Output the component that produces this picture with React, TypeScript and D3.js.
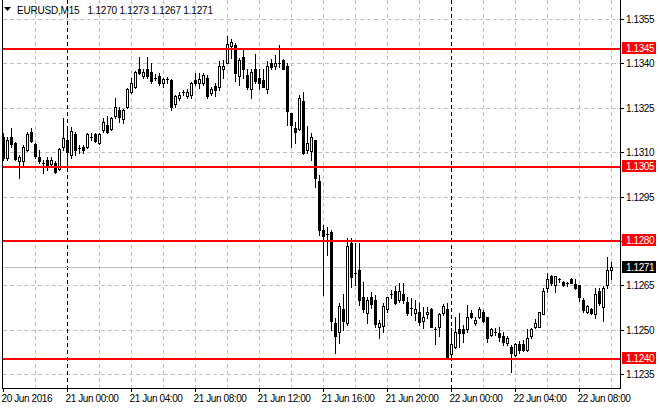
import React from "react";
import * as d3 from "d3";

// EURUSD M15 bars, 20 Jun 20:00 -> 22 Jun 10:00
const opens = [
  1.13151, 1.1308, 1.13151, 1.13131, 1.1307, 1.1307, 1.13107, 1.13168, 1.13128, 1.13084,
  1.13064, 1.13074, 1.1306, 1.13064, 1.13043, 1.13118, 1.13141, 1.13091, 1.13161, 1.13114,
  1.13118, 1.13118, 1.13151, 1.13161, 1.13131, 1.13175, 1.13192, 1.13178, 1.13222, 1.13243,
  1.13212, 1.13253, 1.13303, 1.1332, 1.13381, 1.13357, 1.13381, 1.13371, 1.13351, 1.13357,
  1.13334, 1.13347, 1.13344, 1.13263, 1.13283, 1.13303, 1.1329, 1.13293, 1.13344, 1.13334,
  1.13334, 1.13351, 1.133, 1.13324, 1.1332, 1.13381, 1.13401, 1.13459, 1.13462, 1.13357,
  1.13422, 1.13361, 1.13313, 1.13381, 1.13351, 1.13344, 1.13313, 1.13401, 1.13391, 1.13401,
  1.13411, 1.13391, 1.13232, 1.13182, 1.13178, 1.13273, 1.13107, 1.13104, 1.13141, 1.13003,
  1.12837, 1.12824, 1.1283, 1.12523, 1.12493, 1.1257, 1.12523, 1.12793, 1.12692, 1.12702,
  1.12611, 1.12557, 1.12611, 1.12601, 1.1251, 1.12513, 1.1257, 1.12621, 1.12631, 1.12601,
  1.12621, 1.12594, 1.12574, 1.12557, 1.1256, 1.1253, 1.12553, 1.1257, 1.12503, 1.1251,
  1.12557, 1.1257, 1.12418, 1.12442, 1.12503, 1.12503, 1.12503, 1.12557, 1.12523, 1.12543,
  1.1256, 1.12543, 1.12483, 1.12493, 1.12489, 1.12479, 1.12455, 1.12442, 1.12415, 1.12452,
  1.12452, 1.12432, 1.12479, 1.1251, 1.1251, 1.12553, 1.12641, 1.12682, 1.12651, 1.12672,
  1.12662, 1.12658, 1.12672, 1.12655, 1.12651, 1.12601, 1.1256, 1.1257, 1.12553, 1.12631,
  1.12577, 1.12651, 1.127,
];
const highs = [
  1.13165, 1.13151, 1.13182, 1.13134, 1.13091, 1.13124, 1.13168, 1.13182, 1.13131, 1.13107,
  1.13074, 1.13084, 1.13084, 1.1307, 1.13114, 1.13216, 1.13175, 1.13185, 1.13168, 1.13124,
  1.13124, 1.13165, 1.13165, 1.13165, 1.13165, 1.13216, 1.13222, 1.13219, 1.13283, 1.13253,
  1.13246, 1.13317, 1.13351, 1.13374, 1.13422, 1.13381, 1.13422, 1.13401, 1.13364, 1.13368,
  1.13351, 1.13354, 1.13347, 1.13293, 1.13303, 1.1331, 1.13313, 1.13337, 1.13368, 1.13368,
  1.13368, 1.13361, 1.1332, 1.13334, 1.13408, 1.13411, 1.13493, 1.13482, 1.13469, 1.13418,
  1.13452, 1.13381, 1.13381, 1.13432, 1.13381, 1.13381, 1.13408, 1.13415, 1.13428, 1.13462,
  1.13415, 1.13401, 1.13232, 1.13202, 1.13293, 1.13303, 1.13189, 1.13165, 1.13141, 1.13023,
  1.12854, 1.12847, 1.12837, 1.1254, 1.12591, 1.12621, 1.1281, 1.1281, 1.12793, 1.12793,
  1.12662, 1.12611, 1.12628, 1.12618, 1.12533, 1.12591, 1.12611, 1.12635, 1.12648, 1.12658,
  1.12658, 1.12611, 1.12607, 1.12601, 1.12591, 1.12577, 1.12577, 1.12574, 1.1251, 1.12557,
  1.12587, 1.12591, 1.12506, 1.12543, 1.12557, 1.12516, 1.12584, 1.12567, 1.12543, 1.12577,
  1.12567, 1.12543, 1.12506, 1.12506, 1.1251, 1.12493, 1.12479, 1.12449, 1.12455, 1.12462,
  1.12466, 1.12503, 1.12506, 1.12537, 1.1256, 1.12641, 1.12692, 1.12685, 1.12682, 1.12675,
  1.12665, 1.12662, 1.12675, 1.12672, 1.12651, 1.12607, 1.12584, 1.12574, 1.12641, 1.12641,
  1.12648, 1.12746, 1.1273,
];
const lows = [
  1.13074, 1.13074, 1.13118, 1.13074, 1.13013, 1.13057, 1.13104, 1.13134, 1.1308, 1.13064,
  1.1303, 1.1304, 1.1305, 1.1303, 1.1304, 1.13107, 1.13057, 1.1308, 1.13091, 1.13097,
  1.13097, 1.13114, 1.13141, 1.13134, 1.13128, 1.13168, 1.13165, 1.13175, 1.13216, 1.13202,
  1.13199, 1.13249, 1.133, 1.13317, 1.13364, 1.13351, 1.13351, 1.13334, 1.13344, 1.13327,
  1.1332, 1.13334, 1.13243, 1.13253, 1.13276, 1.13293, 1.13283, 1.13283, 1.13327, 1.13317,
  1.13327, 1.13283, 1.13293, 1.1329, 1.1331, 1.13351, 1.13401, 1.13418, 1.13341, 1.13327,
  1.13351, 1.13313, 1.13283, 1.13334, 1.13313, 1.1332, 1.133, 1.13381, 1.13381, 1.13388,
  1.13381, 1.13192, 1.13118, 1.13131, 1.13175, 1.13094, 1.13097, 1.13074, 1.12982, 1.1282,
  1.12618, 1.12753, 1.12499, 1.12422, 1.12455, 1.12499, 1.12516, 1.12645, 1.12651, 1.12584,
  1.1256, 1.12523, 1.12574, 1.1251, 1.12472, 1.12493, 1.1256, 1.12607, 1.12587, 1.12594,
  1.12591, 1.1255, 1.1255, 1.12533, 1.12516, 1.12506, 1.1254, 1.1251, 1.12452, 1.12479,
  1.1255, 1.12405, 1.12408, 1.12439, 1.12442, 1.12459, 1.12493, 1.1254, 1.12516, 1.1254,
  1.12526, 1.12459, 1.12479, 1.12483, 1.12462, 1.12449, 1.12449, 1.12358, 1.12412, 1.12422,
  1.12428, 1.12428, 1.12472, 1.12506, 1.1251, 1.12553, 1.12628, 1.12651, 1.12628, 1.12662,
  1.12648, 1.12648, 1.12658, 1.12638, 1.12597, 1.1256, 1.12557, 1.12553, 1.1254, 1.12584,
  1.1253, 1.12641, 1.1267,
];
const closes = [
  1.1308, 1.13141, 1.13128, 1.13077, 1.13084, 1.13118, 1.13161, 1.13138, 1.13087, 1.1307,
  1.13064, 1.13057, 1.13074, 1.13033, 1.13111, 1.13148, 1.13101, 1.13172, 1.13107, 1.13114,
  1.13107, 1.13161, 1.13151, 1.13138, 1.13161, 1.13202, 1.13168, 1.13216, 1.13253, 1.13219,
  1.13243, 1.13313, 1.13334, 1.13371, 1.13368, 1.13371, 1.13357, 1.13341, 1.13351, 1.13334,
  1.13347, 1.13347, 1.13253, 1.1329, 1.13293, 1.13303, 1.13303, 1.13334, 1.13334, 1.13347,
  1.13361, 1.1329, 1.13313, 1.1331, 1.13391, 1.13391, 1.13465, 1.13472, 1.13368, 1.13411,
  1.13381, 1.1332, 1.13371, 1.13341, 1.13334, 1.1332, 1.13391, 1.13388, 1.13401, 1.13401,
  1.13381, 1.13239, 1.13192, 1.13168, 1.13283, 1.13097, 1.13131, 1.13151, 1.13013, 1.12837,
  1.12817, 1.12824, 1.1253, 1.12479, 1.1258, 1.1253, 1.12783, 1.12678, 1.12692, 1.12601,
  1.1257, 1.12601, 1.12587, 1.1252, 1.12523, 1.1258, 1.12611, 1.12621, 1.12591, 1.12631,
  1.12601, 1.12557, 1.12574, 1.1257, 1.12526, 1.12543, 1.1256, 1.1251, 1.12503, 1.12553,
  1.1258, 1.12408, 1.12452, 1.12493, 1.12489, 1.12489, 1.12543, 1.12543, 1.12533, 1.1257,
  1.1253, 1.12472, 1.12503, 1.12493, 1.12476, 1.12459, 1.12472, 1.12422, 1.12452, 1.12432,
  1.12432, 1.12472, 1.12503, 1.12523, 1.1256, 1.12631, 1.12672, 1.12658, 1.12682, 1.12672,
  1.12651, 1.12658, 1.12658, 1.12641, 1.12611, 1.12567, 1.1258, 1.12557, 1.12621, 1.12591,
  1.12641, 1.12703, 1.1271,
];

const symbolLabel = "EURUSD,M15";
const timeLabels = [
  "20 Jun 2016", "21 Jun 00:00", "21 Jun 04:00", "21 Jun 08:00", "21 Jun 12:00",
  "21 Jun 16:00", "21 Jun 20:00", "22 Jun 00:00", "22 Jun 04:00", "22 Jun 08:00",
];
const timeLabelBars = [0, 16, 32, 48, 64, 80, 96, 112, 128, 144];
const daySeparatorBars = [16, 112];
const gridBars = [8, 24, 32, 40, 48, 56, 64, 72, 80, 88, 96, 104, 120, 128, 136, 144, 152];
const priceTicks = [1.1355, 1.134, 1.1325, 1.131, 1.1295, 1.128, 1.1265, 1.125, 1.1235];
const levels = [1.1345, 1.1305, 1.128, 1.124];

const W = 660;
const H = 410;
const plotLeft = 2;
const plotRight = 620;
const plotBottom = 388;
const font = "'Liberation Sans', Arial, sans-serif";

export default function App() {
  const n = closes.length;
  const last = n - 1;
  const lastPrice = closes[last];

  const x = d3.scaleLinear().domain([0, last]).range([3.5, 611.5]);
  const y = d3.scaleLinear().domain([1.1235, 1.1355]).range([374, 19]);
  const py = (p: number) => Math.round(y(p));
  const fmt = d3.format(".4f");

  const headerValues = [opens[last], highs[last], lows[last], closes[last]].map(fmt).join(" ");

  return (
    <div style={{ position: "absolute", left: 0, top: 0, width: W, height: H, background: "#fff" }}>
      <svg width={W} height={H} style={{ display: "block" }} fontFamily={font}>
        <rect x={0} y={0} width={W} height={H} fill="#fff" />

        {/* horizontal grid */}
        {priceTicks.map(p => (
          <line key={"hg" + p} x1={plotLeft + 1} x2={plotRight} y1={py(p) + 0.5} y2={py(p) + 0.5}
            stroke="#c0c0c0" strokeDasharray="4,3" shapeRendering="crispEdges" />
        ))}

        {/* vertical grid */}
        {gridBars.filter(b => !daySeparatorBars.includes(b)).map(b => (
          <line key={"vg" + b} x1={x(b)} x2={x(b)} y1={0} y2={plotBottom}
            stroke="#c0c0c0" strokeDasharray="4,3" shapeRendering="crispEdges" />
        ))}

        {/* day separators */}
        {daySeparatorBars.map(b => (
          <line key={"ds" + b} x1={x(b)} x2={x(b)} y1={0} y2={plotBottom}
            stroke="#000" strokeDasharray="4,3" shapeRendering="crispEdges" />
        ))}

        {/* bid line */}
        <line x1={plotLeft + 1} x2={plotRight} y1={py(lastPrice) + 0.5} y2={py(lastPrice) + 0.5}
          stroke="#c0c0c0" shapeRendering="crispEdges" />

        {/* candles */}
        {closes.map((c, i) => {
          const o = opens[i];
          const cx = x(i);
          const yo = py(o);
          const yc = py(c);
          const yh = py(highs[i]);
          const yl = py(lows[i]);
          const top = Math.min(yo, yc);
          const bot = Math.max(yo, yc);
          let body;
          if (bot - top < 1) {
            body = <rect x={cx - 1.5} y={top} width={3} height={1} fill="#000" />;
          } else if (c > o) {
            body = <rect x={cx - 1} y={top + 0.5} width={2} height={bot - top} fill="#fff" stroke="#000" />;
          } else {
            body = <rect x={cx - 1.5} y={top} width={3} height={bot - top + 1} fill="#000" />;
          }
          return (
            <g key={i} shapeRendering="crispEdges">
              <rect x={cx - 0.5} y={yh} width={1} height={yl - yh + 1} fill="#000" />
              {body}
            </g>
          );
        })}

        {/* support / resistance levels */}
        {levels.map(p => (
          <rect key={"lv" + p} x={plotLeft} y={Math.round(y(p) - 1)} width={plotRight - plotLeft} height={2}
            fill="#ff0000" shapeRendering="crispEdges" />
        ))}

        {/* frame */}
        <path d={`M${plotLeft + 0.5},0V${plotBottom + 0.5}H${plotRight + 0.5}V0`}
          fill="none" stroke="#000" shapeRendering="crispEdges" />

        {/* price axis */}
        {priceTicks.map(p => (
          <g key={"pt" + p}>
            <line x1={plotRight} x2={plotRight + 4} y1={py(p) + 0.5} y2={py(p) + 0.5}
              stroke="#000" shapeRendering="crispEdges" />
            <text x={626} y={py(p)} dy="0.35em" fontSize={10} letterSpacing={-0.4} fill="#000">
              {fmt(p)}
            </text>
          </g>
        ))}

        {levels.map(p => (
          <g key={"lb" + p}>
            <rect x={622} y={Math.round(y(p)) - 7} width={34} height={12} fill="#ff0000"
              shapeRendering="crispEdges" />
            <text x={626} y={Math.round(y(p)) - 1} dy="0.35em" fontSize={10} letterSpacing={-0.4} fill="#fff">
              {fmt(p)}
            </text>
          </g>
        ))}

        <rect x={622} y={py(lastPrice) - 6} width={34} height={12} fill="#000" shapeRendering="crispEdges" />
        <text x={626} y={py(lastPrice)} dy="0.35em" fontSize={10} letterSpacing={-0.4} fill="#fff">
          {fmt(lastPrice)}
        </text>

        {/* time axis */}
        {timeLabelBars.map((b, k) => (
          <g key={"tl" + b}>
            <line x1={x(b)} x2={x(b)} y1={plotBottom} y2={plotBottom + 4} stroke="#000"
              shapeRendering="crispEdges" />
            <text x={x(b) - 2} y={402} fontSize={10} letterSpacing={-0.4} fill="#000">
              {timeLabels[k]}
            </text>
          </g>
        ))}

        {/* header */}
        <path d="M4,7H11L7.5,11Z" fill="#000" />
        <text x={17} y={14} fontSize={10} letterSpacing={-0.2} fill="#000">
          {symbolLabel}
          <tspan dx={8}>{headerValues}</tspan>
        </text>
      </svg>
    </div>
  );
}
